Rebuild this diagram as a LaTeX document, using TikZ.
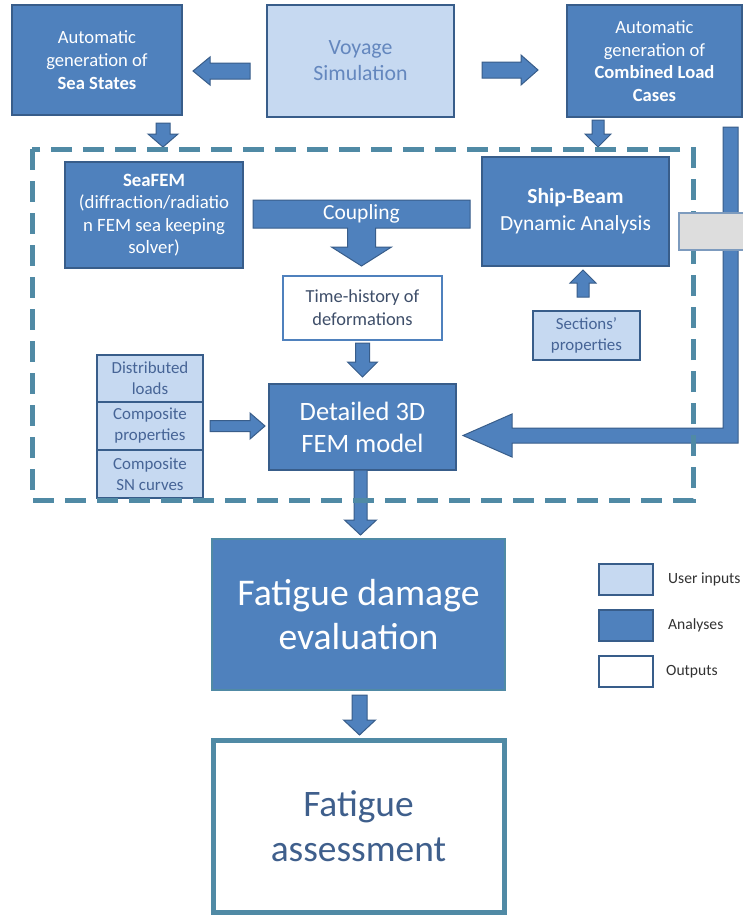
\documentclass[tikz,border=0pt]{standalone}
\usepackage{fontspec}
\setmainfont{Carlito}
\usetikzlibrary{calc,backgrounds}
\definecolor{dfill}{RGB}{79,129,189}
\definecolor{dline}{RGB}{56,93,138}
\definecolor{lfill}{RGB}{198,217,241}
\definecolor{dashc}{RGB}{80,138,165}
\definecolor{vtext}{RGB}{100,135,190}
\definecolor{ltext}{RGB}{70,100,150}
\definecolor{otext}{RGB}{63,95,140}
\definecolor{ttext}{RGB}{62,78,105}
\definecolor{greyf}{RGB}{221,221,221}
\definecolor{greyl}{RGB}{125,155,190}
\definecolor{legt}{RGB}{50,50,50}
\tikzset{
 box/.style={rectangle, inner sep=0pt, outer sep=0pt, align=center},
 analysis/.style={box, fill=dfill, draw=dline, line width=1.5pt, text=white},
 userin/.style={box, fill=lfill, draw=dline, line width=1.5pt, text=ltext},
 outbox/.style={box, fill=white, draw=dfill, line width=2pt, text=ttext},
 barrow/.style={fill=dfill, draw=dline, line width=1pt, line join=miter},
 frame/.style={box, draw=dashc, line width=5pt, dash pattern=on 21pt off 11pt},
 legtext/.style={anchor=west, inner sep=0pt, text=legt, font=\fontsize{15.6}{18}\selectfont},
}
% #1 start, #2 end, #3 shaft half width, #4 head half width, #5 head length
\newcommand\ArrDown[5]{\path[barrow] let \p1=#1, \p2=#2 in (\x1-#3pt,\y1) -- (\x1+#3pt,\y1) -- (\x1+#3pt,\y2+#5pt) -- (\x1+#4pt,\y2+#5pt) -- (\x1,\y2) -- (\x1-#4pt,\y2+#5pt) -- (\x1-#3pt,\y2+#5pt) -- cycle;}
\newcommand\ArrUp[5]{\path[barrow] let \p1=#1, \p2=#2 in (\x1-#3pt,\y1) -- (\x1+#3pt,\y1) -- (\x1+#3pt,\y2-#5pt) -- (\x1+#4pt,\y2-#5pt) -- (\x1,\y2) -- (\x1-#4pt,\y2-#5pt) -- (\x1-#3pt,\y2-#5pt) -- cycle;}
\newcommand\ArrRight[5]{\path[barrow] let \p1=#1, \p2=#2 in (\x1,\y1-#3pt) -- (\x2-#5pt,\y1-#3pt) -- (\x2-#5pt,\y1-#4pt) -- (\x2,\y1) -- (\x2-#5pt,\y1+#4pt) -- (\x2-#5pt,\y1+#3pt) -- (\x1,\y1+#3pt) -- cycle;}
\newcommand\ArrLeft[5]{\path[barrow] let \p1=#1, \p2=#2 in (\x1,\y1-#3pt) -- (\x2+#5pt,\y1-#3pt) -- (\x2+#5pt,\y1-#4pt) -- (\x2,\y1) -- (\x2+#5pt,\y1+#4pt) -- (\x2+#5pt,\y1+#3pt) -- (\x1,\y1+#3pt) -- cycle;}
\begin{document}
\begin{tikzpicture}[x=1pt,y=-1pt]
\useasboundingbox (0,0) rectangle (743,916);

% top row
\node[analysis, minimum width=170pt, minimum height=110pt, font=\fontsize{18.6}{23}\selectfont] (ss) at (97,60) {Automatic\\generation of\\\textbf{Sea States}};
\node[userin, minimum width=187pt, minimum height=112pt, text=vtext, font=\fontsize{21.8}{26}\selectfont] (vs) at (360.5,61) {Voyage\\Simulation};
\node[analysis, minimum width=175pt, minimum height=112pt, font=\fontsize{18.6}{22.5}\selectfont] (cl) at (654.5,61) {Automatic\\generation of\\\textbf{Combined Load}\\\textbf{Cases}};

% inner boxes
\node[analysis, minimum width=178pt, minimum height=106pt, font=\fontsize{18.8}{22.3}\selectfont] (sf) at (154,215) {\textbf{SeaFEM}\\(diffraction/radiatio\\n FEM sea keeping\\solver)};
\node[box, minimum width=217pt, minimum height=28pt, text=white, font=\fontsize{21.5}{24}\selectfont] (cp) at (361.5,214) {Coupling};
\node[outbox, minimum width=159pt, minimum height=64pt, font=\fontsize{18.4}{23}\selectfont] (th) at (362.5,308) {Time-history of\\deformations};
\node[analysis, minimum width=187pt, minimum height=109pt, font=\fontsize{21.5}{27}\selectfont] (sb) at (575.5,211.5) {\textbf{Ship-Beam}\\Dynamic Analysis};
\node[userin, minimum width=107pt, minimum height=49pt, font=\fontsize{16.9}{21}\selectfont] (sp) at (586.5,335.5) {Sections’\\properties};
\node[analysis, minimum width=187pt, minimum height=86pt, font=\fontsize{26.5}{32}\selectfont] (fem) at (362.5,427) {Detailed 3D\\FEM model};
\node[userin, line width=2.5pt, minimum width=106pt, minimum height=47pt, font=\fontsize{16.9}{21}\selectfont] (st1) at (150,378.5) {Distributed\\loads};
\node[userin, line width=2.5pt, minimum width=106pt, minimum height=48pt, font=\fontsize{16.9}{21}\selectfont] (st2) at (150,426) {Composite\\properties};
\node[userin, line width=2.5pt, minimum width=106pt, minimum height=48pt, font=\fontsize{16.9}{21}\selectfont] (st3) at (150,474) {Composite\\SN curves};

% bottom boxes
\node[analysis, draw=dashc, line width=2.5pt, minimum width=293pt, minimum height=151pt, font=\fontsize{37.7}{44}\selectfont] (fd) at (358.5,614.5) {Fatigue damage\\evaluation};
\node[outbox, draw=dashc, line width=5pt, minimum width=291pt, minimum height=172pt, text=otext, font=\fontsize{37.4}{45}\selectfont] (fa) at (358.5,826) {Fatigue\\assessment};

% frame node (drawn later)
\path (362.5,324.5) node[box, minimum width=661pt, minimum height=351pt] (fr) {};

% coupling shape (behind its text)
\begin{scope}[on background layer]
\fill[white] (0,0) rectangle (743,916);
\path[barrow] let \p1=(cp.south), \p2=(th.north) in (cp.north west) -- (cp.north east) -- (cp.south east) -- (\x1+14pt,\y1) -- (\x1+14pt,\y2+29pt) -- (\x1+30pt,\y2+29pt) -- (\x1,\y2+10pt) -- (\x1-30pt,\y2+29pt) -- (\x1-14pt,\y2+29pt) -- (\x1-14pt,\y1) -- (cp.south west) -- cycle;
\end{scope}

% block arrows
\ArrLeft{($(vs.west)+(-17,10)$)}{($(ss.east)+(11,10)$)}{8}{14}{17}
\ArrRight{($(vs.east)+(28,9)$)}{($(cl.west)+(-29,9)$)}{8}{15}{17}
\ArrDown{($(ss.south)+(66,8)$)}{($(fr.north)+(0,-2)$)}{7}{15}{13}
\ArrDown{($(cl.south)+(-56.5,3)$)}{($(fr.north)+(0,-2)$)}{6}{13}{13}
\ArrDown{($(th.south)+(0,3)$)}{($(fem.north)+(0,-7)$)}{7}{15}{15}
\ArrUp{($(sp.north)+(-3.5,-14)$)}{($(sb.south)+(0,4)$)}{6}{13}{13}
\ArrRight{($(st2.east)+(7,0)$)}{($(fem.west)+(-4,0)$)}{5.5}{13}{15}
\ArrDown{($(fem.south)+(-2,0)$)}{($(fd.north)+(0,-4)$)}{6.5}{16}{15}
\ArrDown{($(fd.south)+(1,5)$)}{($(fa.north)+(0,-5)$)}{7.5}{16}{15}
% L-shaped arrow from combined load cases to FEM model
\path[barrow] let \p1=($(cl.south east)+(-11.5,10)$), \p2=($(fem.east)+(7,8.5)$) in
 (\x1-7.5pt,\y1) -- (\x1+7.5pt,\y1) -- (\x1+7.5pt,\y2-7.5pt) -- (\x2+49pt,\y2-7.5pt) -- (\x2+49pt,\y2-21.5pt) -- (\x2,\y2) -- (\x2+49pt,\y2+21.5pt) -- (\x2+49pt,\y2+7.5pt) -- (\x1-7.5pt,\y2+7.5pt) -- cycle;

% dashed frame
\draw[frame] (fr.north west) rectangle (fr.south east);

% grey rectangle
\node[box, fill=greyf, draw=greyl, line width=1.5pt, minimum width=66pt, minimum height=37pt] (gr) at (712,231.5) {};

% legend
\node[userin, line width=2.5pt, minimum width=54pt, minimum height=31pt] (l1) at (626,579.5) {};
\node[analysis, line width=2.5pt, minimum width=54pt, minimum height=31pt] (l2) at (626,625.5) {};
\node[outbox, draw=dline, line width=2.5pt, minimum width=54pt, minimum height=31pt] (l3) at (626,671.5) {};
\node[legtext] (t1) at (668,579.5) {User inputs};
\node[legtext] (t2) at (668,625.5) {Analyses};
\node[legtext] (t3) at (666,672) {Outputs};
\end{tikzpicture}
\end{document}
